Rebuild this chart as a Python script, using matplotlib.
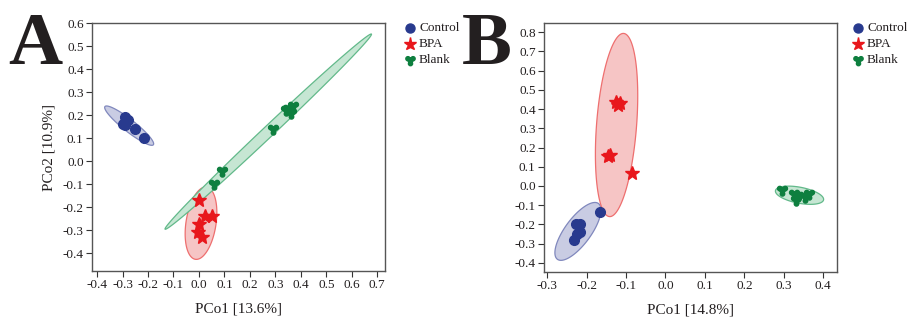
import numpy as np
import matplotlib
matplotlib.use("Agg")
import matplotlib.pyplot as plt
from matplotlib.path import Path
from matplotlib.ticker import FormatStrFormatter, MultipleLocator

plt.rcParams['font.family'] = ['Liberation Serif', 'DejaVu Serif']
plt.rcParams['axes.unicode_minus'] = False

# ---- данные, панель A ----
a_ctrl_x = [-0.30, -0.29, -0.29, -0.28, -0.25, -0.215]
a_ctrl_y = [0.16, 0.19, 0.155, 0.18, 0.14, 0.10]
a_bpa_x = [0.00, 0.025, 0.05, 0.00, -0.005, 0.01]
a_bpa_y = [-0.17, -0.24, -0.24, -0.275, -0.31, -0.33]
a_blank_x = [0.37, 0.34, 0.36, 0.35, 0.29, 0.09, 0.06]
a_blank_y = [0.24, 0.22, 0.21, 0.225, 0.14, -0.045, -0.10]
# эллипсы: центр, половина большой оси (в данных), половина малой оси (px)
a_ell_center = [(-0.274, 0.154), (0.008, -0.27), (0.272, 0.128)]
a_ell_major = [(0.095, -0.083), (0.022, 0.157), (0.405, 0.424)]
a_ell_minor = [6, 15, 5.5]

# ---- данные, панель B ----
b_ctrl_x = [-0.165, -0.228, -0.218, -0.218, -0.225, -0.231]
b_ctrl_y = [-0.137, -0.20, -0.20, -0.24, -0.25, -0.283]
b_bpa_x = [-0.125, -0.115, -0.12, -0.14, -0.145, -0.085]
b_bpa_y = [0.435, 0.43, 0.42, 0.16, 0.155, 0.07]
b_blank_x = [0.295, 0.325, 0.335, 0.33, 0.355, 0.365]
b_blank_y = [-0.02, -0.04, -0.05, -0.075, -0.055, -0.04]
b_ell_center = [(-0.222, -0.236), (-0.124, 0.317), (0.34, -0.048)]
b_ell_major = [(0.052, 0.145), (0.018, 0.476), (0.061, -0.024)]
b_ell_minor = [13, 20, 8]

groups = ['Control', 'BPA', 'Blank']
colors = ['#283a8e', '#e8171c', '#0e7f3f']
fills = ['#c9cce3', '#f6c5c5', '#c6e6d3']
edges = ['#8088bd', '#ee6f6f', '#62b98a']


def blank_marker():
    # трёхлепестковый маркер
    parts = [Path.circle((0, 0), 0.42)]
    for ang in (145, 35, 270):
        r = np.deg2rad(ang)
        parts.append(Path.circle((0.6 * np.cos(r), 0.6 * np.sin(r)), 0.40))
    return Path.make_compound_path(*parts)


markers = ['o', '*', blank_marker()]
msizes = [7, 10, 8]


def draw_ellipse(ax, center, major, minor_px, fc, ec):
    tr = ax.transData
    c = tr.transform(center)
    tip = tr.transform((center[0] + major[0], center[1] + major[1])) - c
    perp = np.array([-tip[1], tip[0]])
    perp = perp / np.linalg.norm(perp) * minor_px
    t = np.linspace(0, 2 * np.pi, 200)
    pts = c + np.outer(np.cos(t), tip) + np.outer(np.sin(t), perp)
    d = tr.inverted().transform(pts)
    ax.fill(d[:, 0], d[:, 1], facecolor=fc, edgecolor=ec, lw=0.9, zorder=1)


def panel(ax, xs, ys, centers, majors, minors, xlim, ylim, xlabel):
    ax.set_xlim(*xlim)
    ax.set_ylim(*ylim)
    for i in range(3):
        draw_ellipse(ax, centers[i], majors[i], minors[i], fills[i], edges[i])
    for i in range(3):
        ax.plot(xs[i], ys[i], linestyle='none', marker=markers[i], ms=msizes[i],
                color=colors[i], mec=colors[i], zorder=3)
    ax.xaxis.set_major_locator(MultipleLocator(0.1))
    ax.yaxis.set_major_locator(MultipleLocator(0.1))
    ax.xaxis.set_major_formatter(FormatStrFormatter('%.1f'))
    ax.yaxis.set_major_formatter(FormatStrFormatter('%.1f'))
    ax.tick_params(direction='out', length=4, width=0.8, labelsize=9.5,
                   colors='#333333', labelcolor='#231f20', pad=2)
    for s in ax.spines.values():
        s.set_color('#555555')
        s.set_linewidth(1.0)
    ax.set_xlabel(xlabel, fontsize=11, color='#231f20', labelpad=8)


fig = plt.figure(figsize=(9.07, 3.2), dpi=100)
axA = fig.add_axes([0.1014, 0.153, 0.323, 0.775])
axB = fig.add_axes([0.5998, 0.150, 0.323, 0.778])

panel(axA, [a_ctrl_x, a_bpa_x, a_blank_x], [a_ctrl_y, a_bpa_y, a_blank_y],
      a_ell_center, a_ell_major, a_ell_minor, (-0.42, 0.73), (-0.478, 0.6),
      'PCo1 [13.6%]')
panel(axB, [b_ctrl_x, b_bpa_x, b_blank_x], [b_ctrl_y, b_bpa_y, b_blank_y],
      b_ell_center, b_ell_major, b_ell_minor, (-0.308, 0.435), (-0.447, 0.847),
      'PCo1 [14.8%]')
axA.set_ylabel('PCo2 [10.9%]', fontsize=11, color='#231f20', labelpad=5)

# большие буквы панелей
fig.text(8 / 907, 1 - 64 / 320, 'A', fontsize=54, fontweight='bold', color='#231f20')
fig.text(462 / 907, 1 - 64 / 320, 'B', fontsize=54, fontweight='bold', color='#231f20')

# легенды
for x0 in (410, 858):
    for i, g in enumerate(groups):
        yy = 1 - (28 + 16 * i) / 320
        fig.lines.append(plt.Line2D([x0 / 907], [yy], transform=fig.transFigure,
                                    marker=markers[i], ms=msizes[i] - 0.5,
                                    color=colors[i], mec=colors[i], linestyle='none'))
        fig.text((x0 + 9) / 907, yy, g, fontsize=9.5, va='center', color='#231f20')

fig.savefig('out.png', dpi=100)
